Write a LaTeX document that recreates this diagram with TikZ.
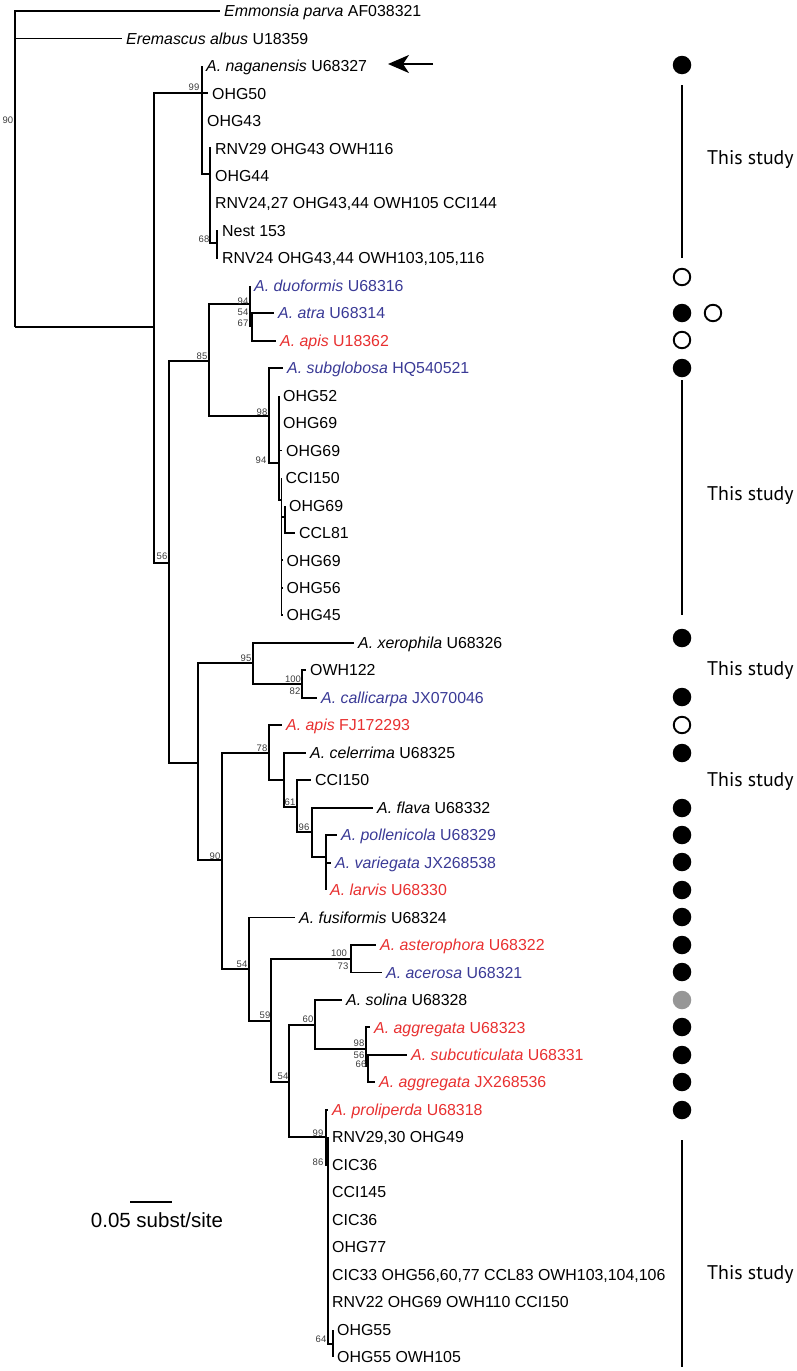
\documentclass[tikz,border=0pt]{standalone}
\usepackage{fontspec}
\setmainfont{Liberation Sans}
\newfontfamily\studyfont{PT Sans}
\usetikzlibrary{arrows.meta}
\definecolor{tblue}{RGB}{58,58,150}
\definecolor{tred}{RGB}{232,48,48}
\definecolor{bsgray}{RGB}{60,60,60}
\definecolor{dotgray}{RGB}{150,150,150}
\tikzset{
  branch/.style={line width=1.9pt, line join=miter},
  tiplabel/.style={anchor=base west, inner sep=0pt, font=\fontsize{15.9}{18}\selectfont},
  bs/.style={inner sep=0pt, font=\fontsize{9.5}{11}\selectfont, text=bsgray},
  fdot/.style={circle, fill=black, minimum size=18.5pt, inner sep=0pt},
  odot/.style={circle, draw=black, line width=1.9pt, minimum size=16.5pt, inner sep=0pt},
  gdot/.style={circle, fill=dotgray, minimum size=18.5pt, inner sep=0pt},
  studybar/.style={line width=2.4pt},
  study/.style={anchor=base west, inner sep=0pt, font=\studyfont\fontsize{19.8}{22}\selectfont},
}
\newcommand\leaf[5]{%
  \coordinate (#1) at (#2,#3);
  \node[tiplabel, text=#4] (#1-l) at ([xshift=4pt,yshift=-5.6pt]#1) {#5};
}
\newcommand\spc[2]{\textit{#1} #2}
\begin{document}
\begin{tikzpicture}[x=1pt,y=-1pt]
\useasboundingbox (0,0) rectangle (797,1371);

% ---------- internal nodes ----------
\coordinate (root) at (15,327);
\coordinate (nA) at (154,327);
\coordinate (n99a) at (202,93.4);
\coordinate (nin) at (210,174);
\coordinate (n68) at (217,243);
\coordinate (n56) at (169,563);
\coordinate (n85) at (209,361);
\coordinate (n94a) at (250,304);
\coordinate (n54a) at (252,326);
\coordinate (n98) at (269,416);
\coordinate (n94b) at (279,463);
\coordinate (nc) at (281.5,500);
\coordinate (nd) at (285,517);
\coordinate (nlow) at (198,763);
\coordinate (n95) at (253,663);
\coordinate (n100a) at (302,684);
\coordinate (n90) at (222,860);
\coordinate (n78) at (269,753);
\coordinate (ne) at (284,780);
\coordinate (n61) at (297,807);
\coordinate (n96) at (312,832);
\coordinate (nf) at (326,857);
\coordinate (n54b) at (249,969);
\coordinate (n59) at (271,1021);
\coordinate (n100b) at (351,959);
\coordinate (n54c) at (289,1082);
\coordinate (n60) at (315,1025);
\coordinate (n98b) at (366,1049);
\coordinate (n56b) at (368,1066);
\coordinate (n99b) at (326,1137.3);
\coordinate (n86) at (328,1164.7);
\coordinate (n64) at (333,1344);

% ---------- leaves ----------
\leaf{em}{220}{11}{black}{\spc{Emmonsia parva}{AF038321}}
\leaf{er}{122}{38.5}{black}{\spc{Eremascus albus}{U18359}}
\leaf{nag}{202}{65.9}{black}{\spc{A. naganensis}{U68327}}
\leaf{ohg50}{208}{93.4}{black}{OHG50}
\leaf{ohg43}{203}{120.9}{black}{OHG43}
\leaf{rnv29}{211}{148.4}{black}{RNV29 OHG43 OWH116}
\leaf{ohg44}{211}{175.8}{black}{OHG44}
\leaf{rnv2427}{211}{203.3}{black}{RNV24,27 OHG43,44 OWH105 CCI144}
\leaf{nest}{218}{230.8}{black}{Nest 153}
\leaf{rnv24}{218}{258.2}{black}{RNV24 OHG43,44 OWH103,105,116}
\leaf{duo}{250}{285.7}{tblue}{\spc{A. duoformis}{U68316}}
\leaf{atra}{274}{313.2}{tblue}{\spc{A. atra}{U68314}}
\leaf{apis}{276}{340.6}{tred}{\spc{A. apis}{U18362}}
\leaf{subg}{283}{368.1}{tblue}{\spc{A. subglobosa}{HQ540521}}
\leaf{ohg52}{279}{395.6}{black}{OHG52}
\leaf{ohg69a}{279}{423.1}{black}{OHG69}
\leaf{ohg69b}{282}{450.5}{black}{OHG69}
\leaf{cci150a}{281.5}{478}{black}{CCI150}
\leaf{ohg69c}{285}{505.5}{black}{OHG69}
\leaf{ccl81}{295}{532.9}{black}{CCL81}
\leaf{ohg69d}{282.5}{560.4}{black}{OHG69}
\leaf{ohg56}{282.5}{587.9}{black}{OHG56}
\leaf{ohg45}{282.5}{615.3}{black}{OHG45}
\leaf{xero}{354}{642.8}{black}{\spc{A. xerophila}{U68326}}
\leaf{owh122}{306}{670.3}{black}{OWH122}
\leaf{calli}{317}{697.8}{tblue}{\spc{A. callicarpa}{JX070046}}
\leaf{apisfj}{282}{725.2}{tred}{\spc{A. apis}{FJ172293}}
\leaf{celer}{306}{752.7}{black}{\spc{A. celerrima}{U68325}}
\leaf{cci150b}{311}{780.2}{black}{CCI150}
\leaf{flava}{373}{807.6}{black}{\spc{A. flava}{U68332}}
\leaf{polle}{337}{835.1}{tblue}{\spc{A. pollenicola}{U68329}}
\leaf{varie}{331}{862.6}{tblue}{\spc{A. variegata}{JX268538}}
\leaf{larvis}{326}{890}{tred}{\spc{A. larvis}{U68330}}
\leaf{fusi}{295}{917.5}{black}{\spc{A. fusiformis}{U68324}}
\leaf{aster}{376}{945}{tred}{\spc{A. asterophora}{U68322}}
\leaf{acer}{382}{972.5}{tblue}{\spc{A. acerosa}{U68321}}
\leaf{solina}{342}{999.9}{black}{\spc{A. solina}{U68328}}
\leaf{aggr}{370}{1027.4}{tred}{\spc{A. aggregata}{U68323}}
\leaf{subc}{407}{1054.9}{tred}{\spc{A. subcuticulata}{U68331}}
\leaf{aggrjx}{375}{1082.3}{tred}{\spc{A. aggregata}{JX268536}}
\leaf{proli}{328}{1109.8}{tred}{\spc{A. proliperda}{U68318}}
\leaf{rnv2930}{328}{1137.3}{black}{RNV29,30 OHG49}
\leaf{cic36a}{328}{1164.7}{black}{CIC36}
\leaf{cci145}{328}{1192.2}{black}{CCI145}
\leaf{cic36b}{328}{1219.7}{black}{CIC36}
\leaf{ohg77}{328}{1247.2}{black}{OHG77}
\leaf{cic33}{328}{1274.6}{black}{CIC33 OHG56,60,77 CCL83 OWH103,104,106}
\leaf{rnv22}{328}{1302.1}{black}{RNV22 OHG69 OWH110 CCI150}
\leaf{ohg55a}{333}{1329.6}{black}{OHG55}
\leaf{ohg55b}{333}{1357}{black}{OHG55 OWH105}

% ---------- branches ----------
\draw[branch] (root) |- (em);
\draw[branch] (root) |- (er);
\draw[branch] (root) -- (nA);
\draw[branch] (nA) |- (n99a);
\draw[branch] (nA) |- (n56);
\draw[branch] (n99a) |- (nag);
\draw[branch] (n99a) -- (ohg50);
\draw[branch] (n99a) |- (ohg43);
\draw[branch] (n99a) |- (nin);
\draw[branch] (nin) |- (rnv29);
\draw[branch] (nin) |- (ohg44);
\draw[branch] (nin) |- (rnv2427);
\draw[branch] (nin) |- (n68);
\draw[branch] (n68) |- (nest);
\draw[branch] (n68) |- (rnv24);
\draw[branch] (n56) |- (n85);
\draw[branch] (n56) |- (nlow);
\draw[branch] (n85) |- (n94a);
\draw[branch] (n85) |- (n98);
\draw[branch] (n94a) |- (duo);
\draw[branch] (n94a) |- (n54a);
\draw[branch] (n54a) |- (atra);
\draw[branch] (n54a) |- (apis);
\draw[branch] (n98) |- (subg);
\draw[branch] (n98) |- (n94b);
\draw[branch] (n94b) |- (ohg52);
\draw[branch] (n94b) |- (ohg69a);
\draw[branch] (n94b) |- (ohg69b);
\draw[branch] (n94b) |- (nc);
\draw[branch] (nc) |- (cci150a);
\draw[branch] (nc) |- (nd);
\draw[branch] (nc) |- (ohg69d);
\draw[branch] (nc) |- (ohg56);
\draw[branch] (nc) |- (ohg45);
\draw[branch] (nd) |- (ohg69c);
\draw[branch] (nd) |- (ccl81);
\draw[branch] (nlow) |- (n95);
\draw[branch] (nlow) |- (n90);
\draw[branch] (n95) |- (xero);
\draw[branch] (n95) |- (n100a);
\draw[branch] (n100a) |- (owh122);
\draw[branch] (n100a) |- (calli);
\draw[branch] (n90) |- (n78);
\draw[branch] (n90) |- (n54b);
\draw[branch] (n78) |- (apisfj);
\draw[branch] (n78) |- (ne);
\draw[branch] (ne) |- (celer);
\draw[branch] (ne) |- (n61);
\draw[branch] (n61) |- (cci150b);
\draw[branch] (n61) |- (n96);
\draw[branch] (n96) |- (flava);
\draw[branch] (n96) |- (nf);
\draw[branch] (nf) |- (polle);
\draw[branch] (nf) |- (varie);
\draw[branch] (nf) |- (larvis);
\draw[branch] (n54b) |- (fusi);
\draw[branch] (n54b) |- (n59);
\draw[branch] (n59) |- (n100b);
\draw[branch] (n59) |- (n54c);
\draw[branch] (n100b) |- (aster);
\draw[branch] (n100b) |- (acer);
\draw[branch] (n54c) |- (n60);
\draw[branch] (n54c) |- (n99b);
\draw[branch] (n60) |- (solina);
\draw[branch] (n60) |- (n98b);
\draw[branch] (n98b) |- (aggr);
\draw[branch] (n98b) |- (n56b);
\draw[branch] (n56b) |- (subc);
\draw[branch] (n56b) |- (aggrjx);
\draw[branch] (n99b) |- (proli);
\draw[branch] (n99b) |- (n86);
\draw[branch] (n86) |- (rnv2930);
\draw[branch] (n86) |- (n64);
\draw[branch] (n64) |- (ohg55a);
\draw[branch] (n64) |- (ohg55b);

% ---------- bootstrap values ----------
\node[bs] (b90r) at (8,120) {90};
\node[bs] (b99a) at (194,87) {99};
\node[bs] (b68) at (204,239) {68};
\node[bs] (b94a) at (243,301) {94};
\node[bs] (b54a) at (243,312) {54};
\node[bs] (b67) at (243,323) {67};
\node[bs] (b85) at (202,356) {85};
\node[bs] (b98a) at (262,412) {98};
\node[bs] (b94b) at (261,460) {94};
\node[bs] (b56a) at (162,556) {56};
\node[bs] (b95) at (246,658) {95};
\node[bs] (b100a) at (293,679) {100};
\node[bs] (b82) at (295,691) {82};
\node[bs] (b78) at (262,748) {78};
\node[bs] (b61) at (290,802) {61};
\node[bs] (b96) at (304,827) {96};
\node[bs] (b90) at (215,856) {90};
\node[bs] (b54b) at (242,964) {54};
\node[bs] (b100b) at (339,953) {100};
\node[bs] (b73) at (343,966) {73};
\node[bs] (b59) at (265,1015) {59};
\node[bs] (b60) at (308,1019) {60};
\node[bs] (b54c) at (283,1076) {54};
\node[bs] (b98b) at (359,1043) {98};
\node[bs] (b56b) at (359,1055) {56};
\node[bs] (b66) at (361,1064) {66};
\node[bs] (b99b) at (318,1133) {99};
\node[bs] (b86) at (318,1162) {86};
\node[bs] (b64) at (321,1339) {64};

% ---------- arrow ----------
\coordinate (arrtail) at (433,64);
\coordinate (arrtip) at (388,64);
\draw[line width=2.2pt, -{Stealth[length=21pt,width=18pt,inset=6pt]}] (arrtail) -- (arrtip);

% ---------- scale bar ----------
\coordinate (sb1) at (130,1202);
\coordinate (sb2) at (172,1202);
\draw[line width=1.9pt] (sb1) -- (sb2);
\node[inner sep=0pt, font=\fontsize{20.5}{23}\selectfont] (sbl) at (157,1220) {0.05 subst/site};

% ---------- right column ----------
\node[fdot] (d1) at (682,65) {};
\coordinate (bar1a) at (682,85);
\coordinate (bar1b) at (682,258);
\draw[studybar] (bar1a) -- (bar1b);
\node[study] (s1) at (707,164) {This study};
\node[odot] (d2) at (682,277) {};
\node[fdot] (d3) at (682,313) {};
\node[odot] (d3b) at (713,313) {};
\node[odot] (d4) at (682,340) {};
\node[fdot] (d5) at (682,368) {};
\coordinate (bar2a) at (682,380);
\coordinate (bar2b) at (682,615);
\draw[studybar] (bar2a) -- (bar2b);
\node[study] (s2) at (707,500) {This study};
\node[fdot] (d6) at (682,638) {};
\node[study] (s3) at (707,675) {This study};
\node[fdot] (d7) at (682,697) {};
\node[odot] (d8) at (682,725) {};
\node[fdot] (d9) at (682,753) {};
\node[study] (s4) at (707,786) {This study};
\node[fdot] (d10) at (682,808) {};
\node[fdot] (d11) at (682,835) {};
\node[fdot] (d12) at (682,862) {};
\node[fdot] (d13) at (682,890) {};
\node[fdot] (d14) at (682,917) {};
\node[fdot] (d15) at (682,945) {};
\node[fdot] (d16) at (682,972) {};
\node[gdot] (d17) at (682,1000) {};
\node[fdot] (d18) at (682,1027) {};
\node[fdot] (d19) at (682,1055) {};
\node[fdot] (d20) at (682,1082) {};
\node[fdot] (d21) at (682,1110) {};
\coordinate (bar3a) at (682,1140);
\coordinate (bar3b) at (682,1367);
\draw[studybar] (bar3a) -- (bar3b);
\node[study] (s5) at (707,1279) {This study};
\end{tikzpicture}
\end{document}
